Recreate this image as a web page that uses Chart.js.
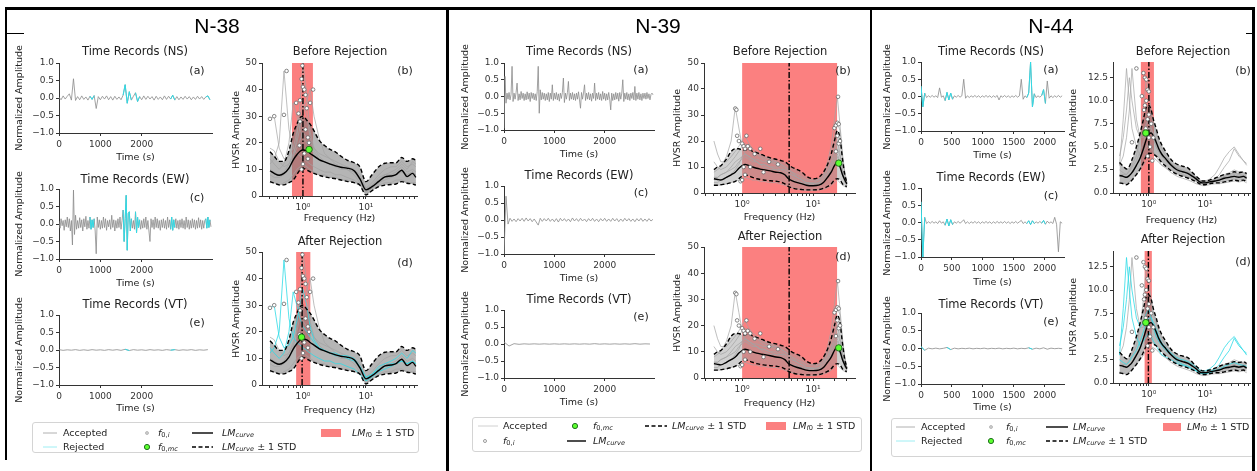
<!DOCTYPE html>
<html>
<head>
<meta charset="utf-8">
<script src="https://cdn.jsdelivr.net/npm/chart.js@4.4.1/dist/chart.umd.min.js"></script>
<style>
  body { margin: 0; width: 1257px; height: 471px; position: relative; overflow: hidden; background: #fff; font-family: "DejaVu Sans", sans-serif; color: #222; }
  canvas { position: absolute; }
  .abs { position: absolute; white-space: nowrap; z-index: 3; line-height: 1.15; }
  .ptl { font-family: "Liberation Sans", Arial, sans-serif; color: #000; }
  .leg { position: absolute; border: 1px solid #d4d4d4; border-radius: 3px; background: #fff; z-index: 1; }
  sub { font-size: 70%; line-height: 0; vertical-align: -0.25em; }
  #ov { position: absolute; left: 0; top: 0; z-index: 2; }
</style>
</head>
<body>
<svg id="ov" width="1257" height="471"></svg>
<script>
// ================= DATA : TIME RECORDS =================
const ns38 = [
  0.02,-0.05,0.06,-0.03,0.05,0.12,-0.06,0.55,-0.07,0.04,
  -0.05,0.06,-0.04,0.03,-0.06,0.05,-0.04,0.07,-0.3,0.04,
  -0.05,0.05,-0.03,0.06,-0.05,0.04,-0.06,0.05,-0.04,0.03,
  -0.05,0.08,0.38,-0.15,0.18,-0.06,0.05,0.15,-0.1,0.04,
  -0.05,0.06,-0.04,0.05,-0.03,0.04,-0.06,0.05,-0.04,0.03,
  -0.05,0.06,-0.04,0.05,-0.03,0.08,-0.06,0.04,-0.05,0.03,
  -0.04,0.05,-0.03,0.04,-0.05,0.03,-0.04,0.05,-0.03,0.04,
  -0.04,0.03,0.06,-0.05
];
const ew38 = [
  0.08,-0.12,0.15,-0.05,0.1,-0.18,0.12,-0.08,0.2,-0.1,
  0.15,-0.2,0.1,-0.6,0.97,-0.3,0.25,-0.15,0.1,-0.12,
  0.18,-0.1,0.12,-0.2,0.15,-0.08,0.22,-0.15,0.1,-0.12,
  0.2,-0.15,0.12,-0.1,0.15,-0.2,-0.85,0.2,-0.1,0.12,
  -0.15,0.1,-0.12,0.2,-0.1,0.15,-0.18,0.1,-0.08,0.12,
  -0.15,0.25,-0.1,0.12,-0.2,0.1,-0.12,0.15,-0.1,0.2,
  -0.15,0.1,0.4,-0.5,0.15,0.82,-0.75,0.3,0.35,-0.2,
  0.15,-0.12,0.1,-0.15,0.35,-0.25,0.2,-0.1,0.12,-0.15,
  0.1,-0.12,0.15,-0.1,0.2,-0.15,0.1,-0.2,-0.5,0.15,
  -0.1,0.12,-0.15,0.2,-0.1,0.15,-0.12,0.1,-0.18,0.12,
  -0.1,0.15,-0.12,0.1,-0.15,0.2,-0.1,0.12,-0.15,0.2,
  -0.18,0.12,-0.1,0.15,-0.12,0.1,-0.15,0.12,-0.1,0.15,
  -0.12,0.1,-0.15,0.2,-0.1,0.12,-0.15,0.1,-0.12,0.15,
  -0.1,0.12,-0.15,0.1,-0.12,0.18,-0.1,0.12,-0.15,0.1,
  -0.12,0.1,0.15,-0.12,0.2,-0.1,0.12,-0.08
];
const vt38 = [
  0.01,-0.01,0.005,-0.005,0.01,-0.01,0.005,-0.01,0.01,-0.005,
  0.005,-0.01,0.01,-0.005,0.01,-0.01,0.02,-0.015,0.01,-0.005,
  0.005,-0.01,0.01,-0.005,0.005,-0.01,0.01,-0.005,0.01,-0.01,
  0.005,-0.005,0.01,-0.01,0.005,-0.005,0.01
];
const rejWin38 = [[750, 850], [1550, 1750], [1850, 1950], [2700, 2800], [3550, 3650]];

const ns39 = [
  -0.95,0.6,-0.2,0.1,-0.08,0.12,-0.1,0.06,0.9,-0.15,
  0.1,-0.08,0.12,0.4,-0.12,0.08,-0.1,0.15,-0.06,0.1,
  -0.12,0.08,-0.1,0.14,-0.08,0.1,-0.15,0.12,-0.06,0.1,
  -0.1,0.08,-0.12,0.15,0.9,-0.5,0.2,-0.1,0.12,-0.08,
  0.1,-0.12,0.08,-0.1,0.12,-0.15,0.1,-0.08,0.35,-0.12,
  0.1,-0.08,0.12,-0.1,0.08,-0.14,0.1,-0.06,0.12,0.55,
  -0.18,0.1,-0.08,0.12,0.45,-0.12,0.1,-0.08,0.12,-0.1,
  0.08,-0.12,0.1,-0.08,0.14,-0.1,-0.35,0.12,-0.08,0.1,
  0.35,-0.12,0.1,-0.08,0.12,-0.1,0.08,-0.14,0.1,-0.06,
  0.4,-0.12,0.1,-0.08,0.12,-0.1,0.08,-0.12,0.15,-0.08,
  0.1,-0.12,0.08,-0.1,0.12,-0.08,-0.4,0.1,-0.12,0.08,
  -0.1,0.12,-0.08,0.1,-0.14,0.12,-0.08,0.1,0.5,-0.15,
  0.1,-0.08,0.12,-0.1,0.08,-0.12,0.1,-0.06,0.12,-0.1,
  0.3,-0.12,0.1,-0.08,0.12,-0.1,0.08,-0.12,0.1,-0.06,
  0.1,-0.08,0.12,-0.06,0.08,-0.1,0.06,0.1,0.05
];
const ew39 = [
  -1.0,0.7,-0.12,0.05,-0.04,0.03,-0.05,0.04,-0.03,0.05,
  -0.04,0.06,-0.03,0.04,-0.05,0.03,-0.06,-0.15,0.05,-0.04,
  0.04,-0.03,0.05,-0.04,0.03,-0.05,0.04,-0.06,0.05,-0.03,
  0.04,-0.04,0.03,-0.05,0.06,-0.03,0.04,-0.04,0.05,-0.03,
  0.03,-0.05,0.04,-0.03,0.05,-0.04,0.03,-0.05,0.04,-0.03,
  0.05,-0.04,0.03,-0.04,0.05,-0.03,0.04,-0.05,0.03,-0.04,
  0.05,-0.03,0.04,-0.04,0.03,-0.05,0.04,-0.03,0.05,-0.04,
  0.03,-0.04,0.04,-0.03,0.02
];
const vt39 = [
  0.06,-0.06,0.01,-0.01,0.005,-0.005,0.005,-0.005,0.005,-0.005,
  0.005,-0.005,0.005,-0.005,0.005,-0.005,0.005,-0.005,0.01,-0.005,
  0.005,-0.005,0.005,-0.005,0.005,-0.005,0.01,-0.005,0.005,0
];
const rejWin39 = [];

const ns44 = [
  0.3,-0.3,0.1,-0.03,0.02,-0.02,0.03,-0.02,0.02,-0.03,
  0.25,-0.02,0.02,-0.12,0.12,-0.1,0.1,-0.08,0.02,-0.02,
  0.03,-0.02,0.02,0.5,-0.05,0.02,-0.03,0.02,-0.02,0.03,
  -0.02,0.02,-0.03,0.02,-0.02,0.03,-0.02,0.02,-0.03,0.02,
  -0.02,0.03,-0.1,0.02,-0.02,0.03,-0.02,0.02,-0.03,0.02,
  -0.02,0.03,-0.02,0.02,0.5,-0.08,0.02,-0.03,0.1,1.0,
  -0.3,0.08,-0.03,0.02,-0.02,0.03,0.2,-0.2,0.45,-0.05,
  0.02,-0.03,0.02,-0.02,0.03,-0.02,0.02
];
const ew44 = [
  0.6,-1.0,0.15,-0.03,0.02,-0.02,0.03,-0.02,0.02,-0.03,
  0.05,-0.02,0.02,-0.08,0.1,-0.1,0.08,-0.06,0.02,-0.02,
  0.03,-0.02,0.02,0.08,-0.03,0.02,-0.03,0.02,-0.02,0.03,
  -0.02,0.02,-0.03,0.02,-0.02,0.03,-0.02,0.02,-0.03,0.02,
  -0.02,0.03,-0.02,0.02,-0.02,0.03,-0.02,0.02,-0.03,0.02,
  -0.02,0.03,-0.02,0.02,0.06,-0.03,0.02,-0.03,0.05,-0.06,
  0.05,-0.03,0.02,-0.02,0.03,-0.02,0.06,-0.05,0.04,-0.02,
  0.02,-0.03,0.15,-0.05,-0.85,0.02,-0.02
];
const vt44 = [
  0.05,-0.05,0.01,-0.01,0.01,-0.01,0.005,0.03,-0.03,0.01,
  -0.01,0.005,-0.005,0.01,-0.01,0.005,-0.005,0.01,-0.01,0.005,
  -0.005,0.01,-0.01,0.005,-0.005,0.01,-0.01,0.005,-0.005,0.02,
  -0.02,0.01,-0.01,0.02,-0.02,0.01,-0.005,0.005,-0.005
];
const rejWin44 = [[0, 60], [390, 510], [1710, 1830], [1950, 2010]];

// ================= DATA : HVSR N-38 =================
const f38 = [0.3,0.35,0.42,0.5,0.6,0.7,0.8,0.9,1.0,1.15,1.3,1.5,1.8,2.2,2.7,3.3,4,5,6.5,8,10,12.5,16,20,25,30,37,45,55,62];
const med38 = [9.5,8.5,7.8,8.5,10.5,13.5,15.5,16.8,17.3,17,16,15,13.7,12.8,12,11.3,10.8,10.5,9.5,6.5,2.3,3.5,5.5,7.2,7.5,8,9.7,7.3,8.5,7];
const up38 = [16.6,15,13,13,17,23.5,27,29.5,30,28.5,27,24.5,21,19,17.5,16.5,15,13.5,12.5,11,5.4,8,11,12.3,12.5,12.5,14.5,13,14,13.5];
const lo38 = [5.4,4.8,4.2,4.2,5,6,8,9.8,10.4,9.8,9.1,8.5,7.8,7.2,6.8,6.5,6,5.5,5,4.1,0.4,2,3.5,4.1,4.3,4.5,5.4,4.8,4.5,4.1];
const win38a = [12,14,20,47,25,18,16,15,14,13,12,11,10,9,9,8,8,7,6,4,1.5,3,5,6,7,8,9,8,9,8];
const win38b = [10,9,8,9,12,16,20,26,32,36,40,30,22,16,14,12,11,10,9,6,2,4,6,8,8,9,11,9,10,9];
const win38c = [8,7,7,8,10,14,22,35,50,38,24,18,15,13,12,11,10,10,8,5,1.5,3,5,7,7,8,10,8,9,8];
const win38d = [5,5,4,5,6,8,10,11,12,11,10,9,8,8,7,7,6,6,5,4,0.8,2,4,5,5,6,6,5,5,5];
const win38e = [29,30,18,14,15,18,24,30,36,30,22,17,14,13,12,12,11,11,10,7,3,4,7,8,9,10,12,10,13,12];
const win38f = [14,12,10,12,20,35,30,25,22,20,18,16,14,13,12,11,11,10,9,7,2.5,4,6,7,8,8,9,8,9,8];
const win38g = [18,17,13,11,12,15,18,21,24,22,20,18,16,15,14,13,12,11,10,8,3,5,8,10,11,11,13,11,12,11];
const f0iF38 = [0.3,0.35,0.5,0.55,0.78,0.85,0.9,0.95,0.98,1.0,1.05,1.1,1.15,1.2,1.25,1.45,0.95,1.0,1.05,1.2,0.9,1.3,1.1,0.88];
const f0iA38 = [29,30,30.5,47,35,31,36,44,49,41,40,38,33,22,20,40,10,12,16,14,28,35,25,19];

// ================= DATA : HVSR N-39 =================
const f39 = [0.4,0.45,0.5,0.6,0.7,0.8,0.9,1.0,1.1,1.25,1.4,1.6,1.8,2.0,2.5,3,3.5,4,4.5,5,6,7,8,10,12,14,16,18,20,22,24,26,28,30];
const med39 = [5.5,5.2,5,6,7,8,9.5,10.5,11,10.5,10,9.5,9.2,9,8.5,8,7.8,7,5.5,4.8,4,3.5,3,2.8,3,4,6,8,10.5,12,10,7,5,3.5];
const up39 = [9,10,10.5,13,16,17,17,16.5,16.5,17,16,15.5,15,14.5,13.5,13,12.5,12,11,10,9,8,6.5,5.5,6,8,11,15,20,24,21,13,7,4];
const lo39 = [3,3,3.2,3.5,4,4.5,5.5,6.5,7,6.5,6,5.5,5.2,5,4.7,4.5,4.2,3.5,2.5,2,1.5,1.3,1.2,1.2,1.3,1.8,2.5,3.5,5,5.5,5,3.5,2.8,2.5];
const win39a = [8,9,10,14,20,33,25,18,15,14,13,12,11,11,10,9,9,8,7,6,5,4,3.5,3,3.5,5,8,12,16,20,15,9,5,3];
const win39b = [4,4,5,6,7,9,11,14,15,14,13,12,11,10,9,9,8,7,6,5,4.5,4,3.5,3.5,4,6,10,15,22,27,24,14,8,4];
const win39c = [6,6,7,8,9,10,12,13,14,13,12,12,11,11,10,10,9,9,8,7,6,5,4,4,5,7,12,18,28,37,26,15,8,4];
const win39d = [20,15,12,12,14,16,18,20,22,19,17,16,15,14,13,12,11,10,9,8,6,5,4,3.5,4,5,7,10,13,15,12,8,5,3];
const win39e = [3,3,3,3.5,4,4.5,5,5.5,6,5.5,5,5,4.5,4.5,4,4,3.5,3,2.5,2,1.5,1.2,1,1,1.2,1.5,2,3,4,5,4,3,2.5,2];
const win39f = [6,6,7,8,10,12,13,14,15,14,13,13,12.5,12,12,12,11,10,9,8,7,6,5,5,5,6,8,11,14,17,14,9,6,4];
const win39g = [12,10,9,10,12,14,16,18,19,18,16,15,14,13,12,11,10,9,8,7,6,5,4,3.5,3.5,4,6,9,12,14,11,7,4,3];
const f0iF39 = [0.8,0.83,0.85,0.9,1.0,1.05,1.1,1.15,1.2,1.3,1.5,1.8,2.4,3.2,1.05,1.3,1.1,0.95,2.0,20,21,22,22.5,23,22,23,21,24,1.0];
const f0iA39 = [32.5,32,22,20,19,18,17,22,18,17,15,17,12,11,10,10,7,4.5,8,25,26,27,37,26.5,22,19,16,20,5];

// ================= DATA : HVSR N-44 =================
const f44 = [0.3,0.35,0.4,0.45,0.5,0.6,0.7,0.8,0.9,1.0,1.1,1.2,1.35,1.5,1.7,2.0,2.5,3,3.5,4,5,6,7,8,9,10,12,15,18,22,27,33,40,48,55];
const med44 = [1.9,1.8,1.7,1.9,2.2,3.0,3.8,4.8,5.8,6.4,6.5,6.2,5.5,4.8,4.2,3.7,3.0,2.6,2.4,2.3,2.1,1.8,1.5,1.2,1.1,1.1,1.2,1.3,1.4,1.6,1.7,1.8,1.7,1.8,1.6];
const up44 = [3.3,2.9,2.6,2.9,3.6,5.0,6.5,8.0,9.3,9.5,9.0,8.0,7.0,6.0,5.2,4.5,3.6,3.2,3.0,2.9,2.7,2.2,1.8,1.5,1.3,1.3,1.4,1.6,1.8,2.0,2.1,2.3,2.2,2.3,2.1];
const lo44 = [1.1,1.0,0.9,1.1,1.4,2.0,2.6,3.3,4.0,4.3,4.3,4.2,4.0,3.7,3.3,2.9,2.4,2.1,1.9,1.8,1.6,1.4,1.2,1.0,0.9,0.9,1.0,1.1,1.1,1.2,1.3,1.4,1.3,1.4,1.2];
const win44a = [3,4,6,9,13.5,8,6,6,7,7,6.5,6,5,4.5,4,3.5,3,2.8,2.5,2.4,2.2,1.9,1.6,1.3,1.2,1.2,1.3,1.5,1.7,2,2.2,2.5,2.3,2.2,2];
const win44b = [2,2,2,2.5,3,4,6,9,12.5,11,9,7.5,6.5,5.5,4.8,4,3.2,2.8,2.5,2.4,2.2,1.9,1.6,1.3,1.2,1.1,1.2,1.4,1.5,1.7,1.8,2,1.8,1.9,1.7];
const win44c = [2.5,2.2,2,2.3,2.8,3.5,4.5,5.5,6.5,7,7,6.5,5.8,5,4.3,3.8,3.2,2.8,2.6,2.5,2.3,2,1.7,1.4,1.3,1.3,1.5,2,2.8,3.8,4.5,5,4.2,3.5,3.2];
const win44d = [4,6,9,12.5,10,7,6,6.5,7.5,8,7,6,5,4.5,4,3.5,3,2.5,2.2,2,1.8,1.5,1.3,1.1,1,1,1.1,1.3,1.5,1.8,2,2.2,2,1.9,1.8];
const win44e = [3,8,13.5,10,7,5,4,4.5,5,5.5,5,4.5,4,3.5,3,2.8,2.5,2.2,2,1.9,1.7,1.5,1.3,1.1,1,1,1.2,1.5,2,2.8,3.5,4.8,4,3.5,3];
const win44f = [1.2,1.1,1,1.2,1.5,2,2.5,3,3.5,3.8,3.9,3.8,3.6,3.3,3,2.7,2.2,1.9,1.7,1.6,1.4,1.2,1,0.9,0.8,0.8,0.9,1,1,1.1,1.2,1.3,1.2,1.3,1.1];
const f0iF44 = [0.6,0.8,0.85,0.9,0.95,1.0,0.75,0.9,0.85,1.0,0.95,1.1,0.5,0.88,1.0,1.05,1.15,0.95,1.2,0.82];
const f0iA44 = [13.5,13,12.5,12.3,11.2,11,10.5,10,9.5,8.5,8,7.5,5.5,7,6,5,3.5,4,6,9];

// ================= TICKS =================
const ampTicks = [-1, -0.5, 0, 0.5, 1];
const timeTicks = [0, 1000, 2000];
const timeTicks44 = [0, 500, 1000, 1500, 2000];
const logTicks = [0.2,0.3,0.4,0.5,0.6,0.7,0.8,0.9,1,2,3,4,5,6,7,8,9,10,20,30,40,50,60];
const hvTicks = [0, 10, 20, 30, 40, 50];
const hvTicks44 = [0, 2.5, 5, 7.5, 10, 12.5];

// ================= SETUP =================
Chart.defaults.font.family = "'DejaVu Sans', sans-serif";
Chart.defaults.color = '#333';
Chart.defaults.animation = false;
Chart.defaults.events = [];
Chart.defaults.plugins.legend.display = false;
Chart.defaults.plugins.tooltip.enabled = false;

const CYAN = '#2fdbe6';
const PAD_T = 8, PAD_R = 8;
const SUP = {'-1': '\u207B\u00B9', '0': '\u2070', '1': '\u00B9', '2': '\u00B2'};

Chart.register({
  id: 'f0band',
  beforeDatasetsDraw(chart, args, opts) {
    if (!opts || opts.lo == null) return;
    const {ctx, chartArea: a, scales: {x}} = chart;
    const x0 = x.getPixelForValue(opts.lo), x1 = x.getPixelForValue(opts.hi);
    ctx.save();
    ctx.fillStyle = '#fb8080';
    ctx.fillRect(x0, a.top, x1 - x0, a.bottom - a.top);
    ctx.restore();
  }
});

function place(box, yW, xH) {
  const c = document.createElement('canvas');
  const w = box[2] - box[0] + yW + PAD_R, h = box[3] - box[1] + PAD_T + xH;
  c.width = w; c.height = h;
  c.style.left = (box[0] - yW) + 'px';
  c.style.top = (box[1] - PAD_T) + 'px';
  c.style.width = w + 'px'; c.style.height = h + 'px';
  document.body.appendChild(c);
  return c;
}

function axis(min, max, ticks, fmt, title, fitter, pad) {
  return {
    min, max,
    afterBuildTicks: s => { s.ticks = ticks.filter(v => v >= min && v <= max).map(v => ({value: v})); },
    afterFit: fitter,
    ticks: {callback: fmt, autoSkip: false, maxRotation: 0, font: {size: 9}, color: '#333', padding: pad},
    grid: {drawOnChartArea: false, tickLength: 3, color: '#333'},
    border: {color: '#333', width: 1},
    title: {display: !!title, text: title || '', font: {size: 9.5}, color: '#222', padding: 0}
  };
}

const fmtAmp = v => v.toFixed(1).replace('-', '\u2212');
const fmtLog = v => {
  const e = Math.log10(v);
  return Math.abs(e - Math.round(e)) < 1e-9 ? '10' + SUP[Math.round(e)] : '';
};

// rotated y-axis label as real text
function yLabel(x, box, text) {
  const d = document.createElement('div');
  d.className = 'abs';
  d.style.left = x + 'px';
  d.style.top = ((box[1] + box[3]) / 2) + 'px';
  d.style.fontSize = '9.5px';
  d.style.transform = 'translate(-50%,-50%) rotate(-90deg)';
  d.textContent = text;
  document.body.appendChild(d);
}

// ================= TIME RECORDS =================
function timeChart(box, labX, labY, vals, dt, wins, xMax, xTicks) {
  const yW = Math.round(box[0] - labX + 6);
  const xH = Math.round(labY - box[3] + 6);
  const cv = place(box, yW, xH);
  yLabel(labX, box, 'Normalized Amplitude');
  const gray = vals.map((v, i) => ({x: i * dt, y: v}));
  const cyan = gray.map(p => ({x: p.x, y: wins.some(w => p.x >= w[0] && p.x <= w[1]) ? p.y : null}));
  new Chart(cv, {
    type: 'line',
    data: {datasets: [
      {data: cyan, borderColor: CYAN, borderWidth: 1, pointRadius: 0},
      {data: gray, borderColor: '#8a8a8a', borderWidth: 0.8, pointRadius: 0}
    ]},
    options: {
      responsive: false,
      layout: {padding: {top: PAD_T, right: PAD_R, left: 0, bottom: 0}},
      scales: {
        x: {type: 'linear', ...axis(0, xMax, xTicks, v => String(v), 'Time (s)', s => { s.height = xH; }, 3)},
        y: {type: 'linear', ...axis(-1, 1, ampTicks, fmtAmp, null, s => { s.width = yW; }, 2)}
      }
    }
  });
}

// ================= HVSR =================
function hvsrChart(box, labX, labY, c) {
  const yW = Math.round(box[0] - labX + 6);
  const xH = Math.round(labY - box[3] + 6);
  const cv = place(box, yW, xH);
  yLabel(labX, box, c.yTitle);
  const pts = ys => c.f.map((f, i) => ({x: f, y: ys[i]}));
  const dashed = {borderColor: '#000', borderWidth: 1.4, borderDash: [4, 2.5], pointRadius: 0, cubicInterpolationMode: 'monotone'};
  const ds = [
    {data: [{x: c.mc[0], y: c.mc[1]}], showLine: false, pointRadius: 3.2, pointBackgroundColor: '#5cff2e', pointBorderColor: '#1f6f1f', pointBorderWidth: 1},
    {data: c.f0iF.map((f, i) => ({x: f, y: c.f0iA[i]})), showLine: false, pointRadius: 1.8, pointBackgroundColor: '#fff', pointBorderColor: '#6a6a6a', pointBorderWidth: 0.8},
    {data: [{x: c.f0, y: 0}, {x: c.f0, y: c.yMax}], borderColor: '#000', borderWidth: 1.4, borderDash: [6, 2, 1.5, 2], pointRadius: 0},
    {data: pts(c.med), borderColor: '#000', borderWidth: 1.4, pointRadius: 0, cubicInterpolationMode: 'monotone'},
    {data: pts(c.up), ...dashed},
    {data: pts(c.lo), ...dashed}
  ];
  const rej = c.rej || [];
  c.curves.forEach((cu, k) => { if (rej.includes(k)) ds.push({data: pts(cu), borderColor: CYAN, borderWidth: 0.8, pointRadius: 0}); });
  c.curves.forEach((cu, k) => { if (!rej.includes(k)) ds.push({data: pts(cu), borderColor: '#a3a3a3', borderWidth: 0.7, pointRadius: 0}); });
  ds.push({data: pts(c.up), borderColor: 'transparent', borderWidth: 0, pointRadius: 0, fill: '+1', backgroundColor: c.cloud, cubicInterpolationMode: 'monotone'});
  ds.push({data: pts(c.lo), borderColor: 'transparent', borderWidth: 0, pointRadius: 0, cubicInterpolationMode: 'monotone'});

  new Chart(cv, {
    type: 'line',
    data: {datasets: ds},
    options: {
      responsive: false,
      layout: {padding: {top: PAD_T, right: PAD_R, left: 0, bottom: 0}},
      plugins: {f0band: {lo: c.band[0], hi: c.band[1]}},
      scales: {
        x: {type: 'logarithmic', ...axis(c.xMin, c.xMax, logTicks, fmtLog, 'Frequency (Hz)', s => { s.height = xH; }, 3)},
        y: {type: 'linear', ...axis(0, c.yMax, c.yTicks, c.yFmt, null, s => { s.width = yW; }, 2)}
      }
    }
  });
}

// ================= TEXT / LEGEND HELPERS =================
function txt(x, y, html, size, center, cls) {
  const d = document.createElement('div');
  d.className = 'abs' + (cls ? ' ' + cls : '');
  d.style.left = x + 'px'; d.style.top = y + 'px'; d.style.fontSize = size + 'px';
  d.style.transform = center ? 'translate(-50%,-50%)' : 'translate(0,-50%)';
  d.innerHTML = html;
  document.body.appendChild(d);
}

const ov = document.getElementById('ov');
function svg(tag, attrs) {
  const e = document.createElementNS('http://www.w3.org/2000/svg', tag);
  for (const k in attrs) e.setAttribute(k, attrs[k]);
  ov.appendChild(e);
}

function legBox(x0, y0, x1, y1) {
  const d = document.createElement('div');
  d.className = 'leg';
  d.style.left = x0 + 'px'; d.style.top = y0 + 'px';
  d.style.width = (x1 - x0) + 'px'; d.style.height = (y1 - y0) + 'px';
  document.body.appendChild(d);
}

const L_ACC = 'Accepted', L_REJ = 'Rejected';
const L_F0I = '<i>f</i><sub>0,<i>i</i></sub>';
const L_F0MC = '<i>f</i><sub>0,<i>mc</i></sub>';
const L_LM = '<i>LM</i><sub><i>curve</i></sub>';
const L_LMSTD = '<i>LM</i><sub><i>curve</i></sub> \u00B1 1 STD';
const L_LMF0 = '<i>LM</i><sub><i>f</i>0</sub> \u00B1 1 STD';

function legLine(x0, x1, y, color, w, dash, label, tx) {
  const a = {x1: x0, x2: x1, y1: y, y2: y, stroke: color, 'stroke-width': w};
  if (dash) a['stroke-dasharray'] = dash;
  svg('line', a);
  txt(tx, y, label, 9.5, false);
}
function legDot(x, y, r, fill, stroke, label, tx) {
  svg('circle', {cx: x, cy: y, r, fill, stroke, 'stroke-width': 1});
  txt(tx, y, label, 9.5, false);
}
function legRect(x0, x1, y, label, tx) {
  svg('rect', {x: x0, y: y - 4, width: x1 - x0, height: 8, fill: '#fb8080'});
  txt(tx, y, label, 9.5, false);
}

// ================= FRAME =================
svg('rect', {x: 5, y: 7, width: 1250, height: 3, fill: '#000'});
svg('rect', {x: 5, y: 7, width: 2, height: 453, fill: '#000'});
svg('rect', {x: 446, y: 7, width: 3, height: 464, fill: '#000'});
svg('rect', {x: 870, y: 7, width: 2, height: 464, fill: '#000'});
svg('rect', {x: 1252, y: 7, width: 3, height: 464, fill: '#000'});
svg('rect', {x: 5, y: 33, width: 19, height: 1, fill: '#000'});
svg('rect', {x: 1246, y: 33, width: 9, height: 1, fill: '#000'});

// ================= N-38 =================
txt(217, 26, 'N-38', 21, true, 'ptl');
timeChart([59, 63, 212, 133], 19, 157, ns38, 50, rejWin38, 3700, timeTicks);
timeChart([59, 189, 212, 259], 19, 283, ew38, 25, rejWin38, 3700, timeTicks);
timeChart([59, 315, 212, 385], 19, 408, vt38, 100, rejWin38, 3700, timeTicks);
const hv38 = {f: f38, med: med38, up: up38, lo: lo38, curves: [win38a, win38b, win38c, win38d, win38e, win38f, win38g],
  f0iF: f0iF38, f0iA: f0iA38, xMin: 0.224, xMax: 64.6, yMax: 50, yTicks: hvTicks, yFmt: v => String(v),
  yTitle: 'HVSR Amplitude', cloud: 'rgba(120,120,120,0.55)'};
hvsrChart([262, 63, 417, 196], 236, 218, {...hv38, band: [0.67, 1.44], f0: 1.0, mc: [1.25, 17.5]});
hvsrChart([262, 252, 417, 385], 236, 410, {...hv38, band: [0.78, 1.31], f0: 0.97, mc: [0.95, 18], rej: [0, 4, 5]});
[['Time Records (NS)', 135, 52], ['Time Records (EW)', 135, 180], ['Time Records (VT)', 135, 305],
 ['Before Rejection', 340, 52], ['After Rejection', 340, 242]].forEach(t => txt(t[1], t[2], t[0], 11.5, true));
[['(a)', 197, 71], ['(c)', 197, 198], ['(e)', 197, 323], ['(b)', 405, 71], ['(d)', 405, 263]].forEach(t => txt(t[1], t[2], t[0], 11, true));
legBox(32, 422, 417, 451);
legLine(43, 57, 433, '#b0b0b0', 1, null, L_ACC, 63);
legLine(43, 57, 447, '#9eeef3', 1, null, L_REJ, 63);
legDot(147, 433, 1.5, '#ccc', '#bbb', L_F0I, 158);
legDot(147, 447, 2.6, '#5cff2e', '#1f6f1f', L_F0MC, 158);
legLine(192, 213, 433, '#000', 1.4, null, L_LM, 222);
legLine(192, 213, 447, '#000', 1.4, '4 2.5', L_LMSTD, 222);
legRect(321, 341, 433, L_LMF0, 352);

// ================= N-39 =================
txt(658, 26, 'N-39', 21, true, 'ptl');
timeChart([504, 63, 654, 130], 465, 154, ns39, 20, rejWin39, 2980, timeTicks);
timeChart([504, 186, 654, 254], 465, 278, ew39, 40, rejWin39, 2980, timeTicks);
timeChart([504, 310, 654, 378], 465, 402, vt39, 100, rejWin39, 2980, timeTicks);
const hv39 = {f: f39, med: med39, up: up39, lo: lo39, curves: [win39a, win39b, win39c, win39d, win39e, win39f, win39g],
  f0iF: f0iF39, f0iA: f0iA39, xMin: 0.29, xMax: 39, yMax: 50, yTicks: hvTicks, yFmt: v => String(v),
  yTitle: 'HVSR Amplitude', cloud: 'rgba(150,150,150,0.45)', band: [1.0, 21.8], f0: 4.6, mc: [23, 11.5]};
hvsrChart([704, 63, 855, 193], 677, 217, hv39);
hvsrChart([704, 247, 855, 378], 677, 403, hv39);
[['Time Records (NS)', 579, 52], ['Time Records (EW)', 579, 176], ['Time Records (VT)', 579, 300],
 ['Before Rejection', 780, 52], ['After Rejection', 780, 237]].forEach(t => txt(t[1], t[2], t[0], 11.5, true));
[['(a)', 641, 70], ['(c)', 641, 193], ['(e)', 641, 317], ['(b)', 843, 71], ['(d)', 843, 257]].forEach(t => txt(t[1], t[2], t[0], 11, true));
legBox(472, 417, 860, 450);
legLine(478, 498, 426, '#d0d0d0', 1, null, L_ACC, 503);
legDot(485, 441, 1.5, '#fff', '#999', L_F0I, 503);
legDot(575, 426, 2.6, '#5cff2e', '#1f6f1f', L_F0MC, 593);
legLine(567, 586, 441, '#000', 1.4, null, L_LM, 593);
legLine(645, 667, 426, '#000', 1.4, '4 2.5', L_LMSTD, 672);
legRect(766, 786, 426, L_LMF0, 793);

// ================= N-44 =================
txt(1051, 26, 'N-44', 21, true, 'ptl');
timeChart([921, 62, 1064, 131], 887, 155, ns44, 30, rejWin44, 2310, timeTicks44);
timeChart([921, 188, 1064, 257], 887, 282, ew44, 30, rejWin44, 2310, timeTicks44);
timeChart([921, 313, 1064, 384], 887, 407, vt44, 60, rejWin44, 2310, timeTicks44);
const hv44 = {f: f44, med: med44, up: up44, lo: lo44, curves: [win44a, win44b, win44c, win44d, win44e, win44f],
  f0iF: f0iF44, f0iA: f0iA44, xMin: 0.23, xMax: 63, yMax: 14.2, yTicks: hvTicks44, yFmt: v => v.toFixed(1),
  yTitle: 'HVSR Amplitdue', cloud: 'rgba(120,120,120,0.5)', mc: [0.88, 6.5]};
hvsrChart([1113, 62, 1250, 193], 1073, 220, {...hv44, band: [0.72, 1.23], f0: 1.0});
hvsrChart([1113, 251, 1250, 383], 1073, 410, {...hv44, band: [0.84, 1.13], f0: 0.98, rej: [2, 3, 4]});
[['Time Records (NS)', 991, 52], ['Time Records (EW)', 991, 178], ['Time Records (VT)', 991, 305],
 ['Before Rejection', 1183, 52], ['After Rejection', 1183, 240]].forEach(t => txt(t[1], t[2], t[0], 11.5, true));
[['(a)', 1051, 70], ['(c)', 1051, 196], ['(e)', 1051, 322], ['(b)', 1243, 71], ['(d)', 1243, 262]].forEach(t => txt(t[1], t[2], t[0], 11, true));
legBox(891, 418, 1252, 455);
legLine(896, 915, 427, '#b0b0b0', 1, null, L_ACC, 921);
legLine(896, 915, 441, '#9eeef3', 1, null, L_REJ, 921);
legDot(991, 427, 1.5, '#ccc', '#bbb', L_F0I, 1006);
legDot(991, 441, 2.6, '#5cff2e', '#1f6f1f', L_F0MC, 1006);
legLine(1046, 1068, 427, '#000', 1.4, null, L_LM, 1073);
legLine(1046, 1068, 441, '#000', 1.4, '4 2.5', L_LMSTD, 1073);
legRect(1163, 1181, 427, L_LMF0, 1187);
</script>
</body>
</html>
